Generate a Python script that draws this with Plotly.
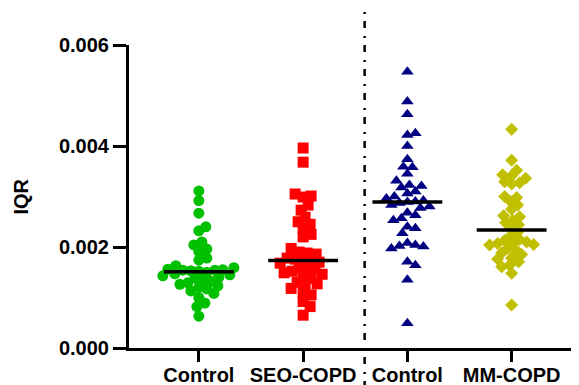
import numpy as np
import plotly.graph_objects as go

categories = ["Control", "SEO-COPD", "Control", "MM-COPD"]

control_1 = [0.00311, 0.00292, 0.00267, 0.00240, 0.00232, 0.00210, 0.00204, 0.00196, 0.00191, 0.00178,
             0.00174, 0.00163, 0.00159, 0.00156, 0.00155, 0.00154, 0.00154, 0.00153, 0.00152, 0.00150,
             0.00147, 0.00145, 0.00143, 0.00140, 0.00138, 0.00135, 0.00132, 0.00129, 0.00126, 0.00123,
             0.00120, 0.00117, 0.00113, 0.00108, 0.00100, 0.00089, 0.00082, 0.00063]

seo_copd = [0.00396, 0.00368, 0.00305, 0.00301, 0.00299, 0.00283, 0.00273, 0.00259, 0.00250, 0.00245,
            0.00237, 0.00225, 0.00220, 0.00197, 0.00190, 0.00188, 0.00186, 0.00178, 0.00176, 0.00174,
            0.00173, 0.00170, 0.00168, 0.00160, 0.00158, 0.00155, 0.00152, 0.00149, 0.00146, 0.00141,
            0.00138, 0.00130, 0.00127, 0.00125, 0.00118, 0.00109, 0.00105, 0.00092, 0.00082, 0.00065]

control_2 = [0.00547, 0.00488, 0.00463, 0.00425, 0.00422, 0.00400, 0.00374, 0.00359, 0.00358, 0.00345,
             0.00331, 0.00323, 0.00321, 0.00318, 0.00310, 0.00306, 0.00300, 0.00296, 0.00292, 0.00290,
             0.00289, 0.00287, 0.00283, 0.00280, 0.00277, 0.00268, 0.00263, 0.00257, 0.00253, 0.00240,
             0.00237, 0.00227, 0.00208, 0.00204, 0.00202, 0.00201, 0.00197, 0.00171, 0.00164, 0.00135,
             0.00049]

mm_copd = [0.00433, 0.00372, 0.00352, 0.00343, 0.00341, 0.00336, 0.00329, 0.00327, 0.00325, 0.00300,
           0.00298, 0.00290, 0.00283, 0.00275, 0.00262, 0.00260, 0.00253, 0.00248, 0.00244, 0.00238,
           0.00229, 0.00222, 0.00215, 0.00213, 0.00210, 0.00208, 0.00207, 0.00205, 0.00204, 0.00197,
           0.00195, 0.00188, 0.00185, 0.00178, 0.00176, 0.00171, 0.00164, 0.00161, 0.00148, 0.00085]

groups = [control_1, seo_copd, control_2, mm_copd]
colors = ["#00C000", "#FF0000", "#000080", "#C0C000"]
symbols = ["circle", "square", "triangle-up", "diamond"]
sizes = [11, 11, 11, 10]
y_ticks = [0.0, 0.002, 0.004, 0.006]

# page body has an 8px default margin, so the figure is offset by 8px
OFF = 8
W, H = 579 - OFF, 385 - OFF
ML, MR, MT = 129 - OFF, 0, 45 - OFF
PH = 303
MB = H - MT - PH
XR = [-0.67, 3.646]
YR = [0.0, 0.006]
pw, ph = W - ML - MR, PH
xpx = pw / (XR[1] - XR[0])
ypx = ph / (YR[1] - YR[0])


def swarm(values, diam):
    """Deterministic beeswarm offsets (in category units)."""
    placed = []
    offs = [0.0] * len(values)
    med = np.median(values)
    order = sorted(range(len(values)), key=lambda i: abs(values[i] - med))
    for i in order:
        yp = values[i] * ypx
        k = 0
        while True:
            cands = [0.0] if k == 0 else [k, -k]
            ok = None
            for c in cands:
                if all((c - px) ** 2 + (yp - py) ** 2 >= diam ** 2 for px, py in placed):
                    ok = c
                    break
            if ok is not None:
                placed.append((ok, yp))
                offs[i] = ok / xpx
                break
            k += 1
    return offs


fig = go.Figure()
for gi, vals in enumerate(groups):
    offs = swarm(vals, sizes[gi] * 0.72)
    fig.add_trace(go.Scatter(
        x=[gi + o for o in offs], y=vals, mode="markers",
        marker=dict(symbol=symbols[gi], size=sizes[gi], color=colors[gi], line=dict(width=0)),
        showlegend=False, hoverinfo="y", cliponaxis=False))
    med = float(np.median(vals))
    fig.add_trace(go.Scatter(
        x=[gi - 0.335, gi + 0.335], y=[med, med], mode="lines",
        line=dict(color="black", width=3.5), showlegend=False, hoverinfo="skip"))

sep_x = 1.59
fig.add_shape(type="line", xref="paper", yref="paper",
              x0=(sep_x - XR[0]) / (XR[1] - XR[0]), x1=(sep_x - XR[0]) / (XR[1] - XR[0]),
              y0=-(H - MT - PH) / PH - 0.01, y1=1 + (MT - 4) / PH,
              line=dict(color="black", width=2.5, dash="7px,7px,2px,8px"))

font = dict(family="Liberation Sans, Arial, sans-serif", size=20, color="black", weight="bold")

fig.update_layout(
    width=W, height=H,
    margin=dict(l=ML, r=MR, t=MT, b=MB, pad=0, autoexpand=False),
    plot_bgcolor="white", paper_bgcolor="white",
    font=font,
    xaxis=dict(range=XR, tickvals=list(range(len(categories))), ticktext=categories,
               showline=True, linewidth=3, linecolor="black", ticks="outside",
               ticklen=11, tickwidth=3, tickcolor="black", showgrid=False, zeroline=False,
               tickfont=font, automargin=False, ticklabelstandoff=-4),
    yaxis=dict(range=YR, tickvals=y_ticks, ticktext=[f"{v:.3f}" for v in y_ticks],
               showline=True, linewidth=3, linecolor="black", ticks="outside",
               ticklen=13, tickwidth=3, tickcolor="black", showgrid=False, zeroline=False,
               tickfont=font, automargin=False),
    annotations=[dict(text="IQR", textangle=-90, xref="paper", yref="paper",
                      x=(20 - OFF - ML) / pw, y=0.5, xanchor="center", yanchor="middle",
                      showarrow=False, font=font)],
)

fig.write_html("out.html")
